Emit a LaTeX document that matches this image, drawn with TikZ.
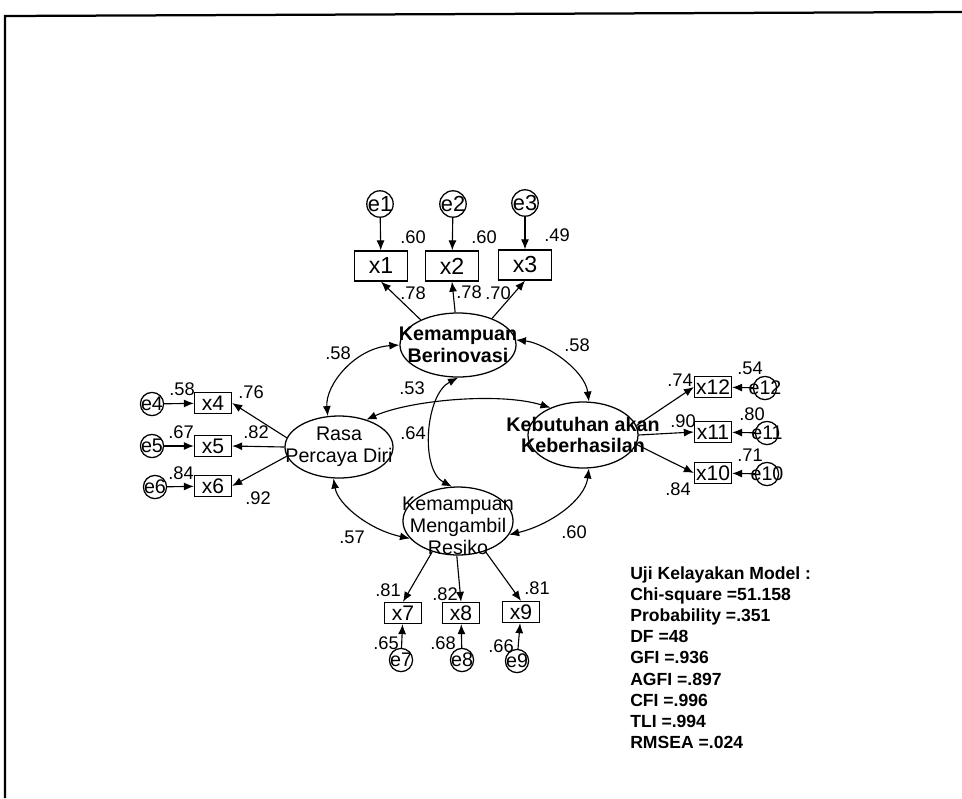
\documentclass[tikz,border=0pt]{standalone}
\usepackage{fontspec}
\setmainfont{Liberation Sans}
\usetikzlibrary{shapes,arrows.meta,positioning,calc}

\newcommand{\errtxt}[1]{\makebox[0pt]{#1}}

\begin{document}
\begin{tikzpicture}[
    x=0.025cm, y=-0.025cm,
    latent/.style={ellipse, draw, line width=0.9pt, inner sep=0pt},
    lattext/.style={align=center, inner sep=0pt, font=\fontsize{14}{15.5}\selectfont},
    latbold/.style={lattext, font=\fontsize{14}{15.5}\selectfont\bfseries},
    item/.style={rectangle, draw, line width=0.9pt, minimum width=0.925cm, minimum height=0.525cm, inner sep=0pt, font=\fontsize{15}{16}\selectfont},
    bigitem/.style={item, minimum width=1.325cm, minimum height=0.75cm, font=\fontsize{16.5}{17}\selectfont},
    err/.style={circle, draw, line width=0.9pt, minimum size=0.58cm, inner sep=0pt, font=\fontsize{14}{15}\selectfont},
    bigerr/.style={err, minimum size=0.66cm, font=\fontsize{15.5}{16}\selectfont},
    coef/.style={inner sep=0pt, font=\fontsize{13}{14}\selectfont},
    stats/.style={align=left, inner sep=0pt, font=\fontsize{12.5}{15.1}\selectfont\bfseries},
    arrow/.style={-{Latex[length=2.5mm,width=2mm]}, line width=0.8pt},
    cov/.style={{Latex[length=2.5mm,width=2mm]}-{Latex[length=2.5mm,width=2mm]}, line width=0.8pt}
]
    \useasboundingbox (0,0) rectangle (962,798);
    \draw[line width=1.6pt] (5,798) -- (5,16) -- (962,12);

    % latent variables
    \node[latent, minimum width=2.9cm, minimum height=1.6cm, label={[latbold]center:Kemampuan\\Berinovasi}] (berin) at (458,345) {};
    \node[latent, minimum width=2.7cm, minimum height=1.55cm, label={[lattext]center:Rasa\\Percaya Diri}] (rasa) at (339,447) {};
    \node[latent, minimum width=2.75cm, minimum height=1.65cm, label={[latbold]center:Kebutuhan akan\\Keberhasilan}] (kebut) at (583,435) {};
    \node[latent, minimum width=2.75cm, minimum height=1.7cm, label={[lattext, yshift=-0.12cm]center:Kemampuan\\Mengambil\\Resiko}] (resiko) at (458,521) {};

    % indicators
    \node[bigitem] (x1) at (381,266) {x1};
    \node[bigitem] (x2) at (452,266) {x2};
    \node[bigitem] (x3) at (525,265) {x3};
    \node[item] (x4) at (213,403) {x4};
    \node[item] (x5) at (213,446) {x5};
    \node[item] (x6) at (213,486) {x6};
    \node[item] (x7) at (403,613) {x7};
    \node[item] (x8) at (461,613) {x8};
    \node[item] (x9) at (521,612) {x9};
    \node[item] (x10) at (713,473) {x10};
    \node[item] (x11) at (713,432) {x11};
    \node[item] (x12) at (713,387) {x12};

    % errors
    \node[bigerr] (e1) at (380,204) {\errtxt{e1}};
    \node[bigerr] (e2) at (453,204) {\errtxt{e2}};
    \node[bigerr] (e3) at (525,203) {\errtxt{e3}};
    \node[err] (e4) at (152,404) {\errtxt{e4}};
    \node[err] (e5) at (152,446) {\errtxt{e5}};
    \node[err] (e6) at (155,487) {\errtxt{e6}};
    \node[err] (e7) at (401,660) {\errtxt{e7}};
    \node[err] (e8) at (462,660) {\errtxt{e8}};
    \node[err] (e9) at (517,661) {\errtxt{e9}};
    \node[err] (e10) at (767,474) {\errtxt{e10}};
    \node[err] (e11) at (767,433) {\errtxt{e11}};
    \node[err] (e12) at (765,388) {\errtxt{e12}};

    % error paths
    \draw[arrow] (e1) -- (x1);
    \draw[arrow] (e2) -- (x2);
    \draw[arrow] (e3) -- (x3);
    \draw[arrow] (e4) -- (x4);
    \draw[arrow] (e5) -- (x5);
    \draw[arrow] (e6) -- (x6);
    \draw[arrow] (e7) -- (x7);
    \draw[arrow] (e8) -- (x8);
    \draw[arrow] (e9) -- (x9);
    \draw[arrow] (e10) -- (x10);
    \draw[arrow] (e11) -- (x11);
    \draw[arrow] (e12) -- (x12);

    % loadings
    \draw[arrow] (berin.146) -- (x1.south);
    \draw[arrow] (berin.95) -- (x2.south);
    \draw[arrow] (berin.38) -- (x3.south);
    \draw[arrow] (rasa.170) -- (x4.east);
    \draw[arrow] (rasa.180) -- (x5.east);
    \draw[arrow] (rasa.190) -- (x6.east);
    \draw[arrow] (kebut.10) -- (x12.west);
    \draw[arrow] (kebut.0) -- (x11.west);
    \draw[arrow] (kebut.350) -- (x10.west);
    \draw[arrow] (resiko.230) -- (x7.north);
    \draw[arrow] (resiko.268) -- (x8.north);
    \draw[arrow] (resiko.312) -- (x9.north);

    % covariances
    \draw[cov] (berin.180) .. controls (355,348) and (325,385) .. (rasa.110);
    \draw[cov] (berin.5) .. controls (545,343) and (585,370) .. (kebut.80);
    \draw[cov] (rasa.45) .. controls (410,400) and (500,392) .. (kebut.140);
    \draw[cov] (berin.270) .. controls (425,395) and (420,470) .. (resiko.100);
    \draw[cov] (rasa.260) .. controls (338,505) and (370,530) .. (resiko.200);
    \draw[cov] (kebut.280) .. controls (585,500) and (550,525) .. (resiko.345);

    % coefficients
    \node[coef] (sq1) at (413,237) {.60};
    \node[coef] (sq2) at (484,237) {.60};
    \node[coef] (sq3) at (557,235) {.49};
    \node[coef] (ld1) at (413,293) {.78};
    \node[coef] (ld2) at (469,292) {.78};
    \node[coef] (ld3) at (498,293) {.70};
    \node[coef] (sq4) at (182,389) {.58};
    \node[coef] (sq5) at (181,432) {.67};
    \node[coef] (sq6) at (181,473) {.84};
    \node[coef] (ld4) at (251,392) {.76};
    \node[coef] (ld5) at (256,432) {.82};
    \node[coef] (ld6) at (258,498) {.92};
    \node[coef] (ld12) at (680,380) {.74};
    \node[coef] (sq12) at (750,368) {.54};
    \node[coef] (ld11) at (683,421) {.90};
    \node[coef] (sq11) at (752,414) {.80};
    \node[coef] (sq10) at (750,455) {.71};
    \node[coef] (ld10) at (678,489) {.84};
    \node[coef] (ld7) at (388,590) {.81};
    \node[coef] (ld8) at (445,594) {.82};
    \node[coef] (ld9) at (537,588) {.81};
    \node[coef] (sq7) at (386,643) {.65};
    \node[coef] (sq8) at (443,643) {.68};
    \node[coef] (sq9) at (501,646) {.66};
    \node[coef] (cbr) at (338,353) {.58};
    \node[coef] (cbk) at (577,345) {.58};
    \node[coef] (crk) at (412,388) {.53};
    \node[coef] (cbm) at (413,433) {.64};
    \node[coef] (crm) at (352,537) {.57};
    \node[coef] (ckm) at (574,532) {.60};

    % model fit
    \node[stats, anchor=north west] (fit) at (630,566) {Uji Kelayakan Model :\\Chi-square =51.158\\Probability =.351\\DF =48\\GFI =.936\\AGFI =.897\\CFI =.996\\TLI =.994\\RMSEA =.024};
\end{tikzpicture}
\end{document}
